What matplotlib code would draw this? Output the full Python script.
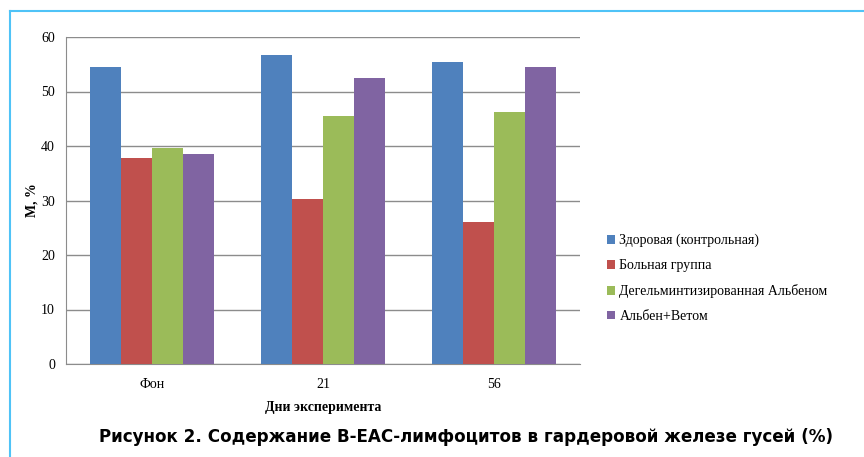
import numpy as np
import matplotlib.pyplot as plt
from matplotlib.lines import Line2D

plt.rcParams['font.family'] = ['Liberation Serif', 'DejaVu Serif']

categories = ['Фон', '21', '56']
series_names = ['Здоровая (контрольная)', 'Больная группа',
                'Дегельминтизированная Альбеном', 'Альбен+Ветом']
healthy = [54.5, 56.7, 55.4]
sick = [37.8, 30.3, 26.1]
albendazole = [39.6, 45.5, 46.2]
alben_vetom = [38.5, 52.5, 54.5]
yticks = [0, 10, 20, 30, 40, 50, 60]

colors = ['#4F81BD', '#C0504D', '#9BBB59', '#8064A2']
series = [healthy, sick, albendazole, alben_vetom]

fig = plt.figure(figsize=(8.64, 4.57), dpi=100)
ax = fig.add_axes([66 / 864, 1 - 364 / 457, 514 / 864, 327 / 457])

x = np.arange(len(categories))
w = 0.181
for i, (vals, name) in enumerate(zip(series, series_names)):
    ax.bar(x + (i - 1.5) * w, vals, w, color=colors[i], label=name, zorder=3)

ax.set_xlim(-0.5, 2.5)
ax.set_ylim(0, 60)
ax.set_yticks(yticks)
ax.set_xticks(x)
ax.set_xticklabels(categories)
ax.yaxis.grid(True, color='#8c8c8c', linewidth=1)
ax.set_axisbelow(True)
for s in ['top', 'right']:
    ax.spines[s].set_visible(False)
ax.spines['left'].set_color('#8c8c8c')
ax.spines['bottom'].set_color('#8c8c8c')
ax.tick_params(axis='both', length=0, labelsize=10, pad=8)
ax.tick_params(axis='x', pad=10)

ax.set_xlabel('Дни эксперимента', fontsize=10, fontweight='bold', labelpad=7)
ax.set_ylabel('М, %', fontsize=10, fontweight='bold', labelpad=2)

leg = fig.legend(loc='upper left', bbox_to_anchor=(600 / 864, 1 - 227 / 457),
                 frameon=False, fontsize=10, handlelength=0.6, handleheight=0.6,
                 handletextpad=0.3, labelspacing=0.85, borderpad=0)

fig.text(466 / 864, 1 - 437 / 457,
         'Рисунок 2. Содержание В-ЕАС-лимфоцитов в гардеровой железе гусей (%)',
         ha='center', va='center', fontsize=12.1, fontweight='bold',
         family=['DejaVu Sans'])

# light blue frame on left and top
fig.add_artist(Line2D([10 / 864, 10 / 864], [0, 1 - 11 / 457], transform=fig.transFigure,
                      color='#4FC3F7', linewidth=1.5))
fig.add_artist(Line2D([10 / 864, 1], [1 - 11 / 457, 1 - 11 / 457], transform=fig.transFigure,
                      color='#4FC3F7', linewidth=1.5))

plt.savefig('out.png', dpi=100)
